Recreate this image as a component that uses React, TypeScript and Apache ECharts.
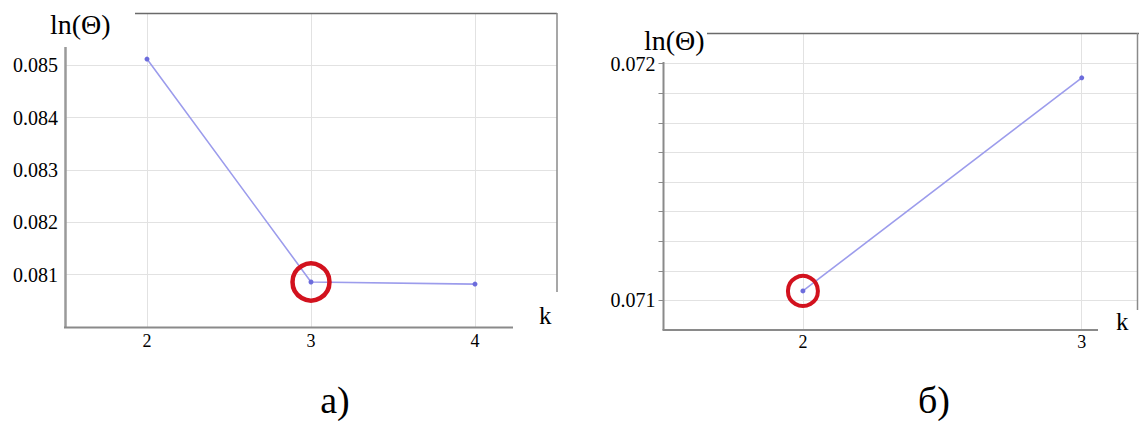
import React, { useEffect, useRef } from "react";
import * as echarts from "echarts";

// ---- data ----
const leftK = [2, 3, 4];
const leftLnTheta = [0.08512, 0.08086, 0.08082];
const leftChosenK = 3;
const leftYTicks = [0.081, 0.082, 0.083, 0.084, 0.085];

const rightK = [2, 3];
const rightLnTheta = [0.07104, 0.07194];
const rightChosenK = 2;
const rightYTicks = [
  0.071, 0.071125, 0.07125, 0.071375, 0.0715, 0.071625, 0.07175, 0.071875, 0.072,
];
const rightYLabels = [0.071, 0.072];

const yName = "ln(Θ)";
const xName = "k";
const leftCaption = "а)";
const rightCaption = "б)";

const FONT = "Liberation Serif";

const pairs = (ks: number[], vs: number[]) => ks.map((k, i) => [k, vs[i]]);
const chosen = (ks: number[], vs: number[], k: number) => {
  const i = ks.indexOf(k);
  return [[ks[i], vs[i]]];
};

export default function App() {
  const ref = useRef<HTMLDivElement>(null);

  useEffect(() => {
    if (!ref.current) return;
    const chart = echarts.init(ref.current, null, { renderer: "svg" });

    const lbl = (size: number) => ({
      fontFamily: FONT,
      fontSize: size,
      color: "#000",
    });
    const fmt3 = (v: number) => Number(v).toFixed(3);
    const split = { show: true, lineStyle: { color: "#e2e2e2", width: 1 } };

    const line = (x1: number, y1: number, x2: number, y2: number, stroke: string, w: number) => ({
      type: "line",
      z: 100,
      shape: { x1, y1, x2, y2 },
      style: { stroke, lineWidth: w },
    });
    const text = (t: string, x: number, y: number, size: number, align = "left") => ({
      type: "text",
      z: 100,
      x,
      y,
      style: {
        text: t,
        fontFamily: FONT,
        fontSize: size,
        fill: "#000",
        align,
        verticalAlign: "middle",
      },
    });

    const option: any = {
      animation: false,
      backgroundColor: "#fff",
      textStyle: { fontFamily: FONT },
      grid: [
        { left: 65, top: 13, width: 492, height: 314, containLabel: false, outerBoundsMode: "none" },
        { left: 663.5, top: 34, width: 474, height: 296, containLabel: false, outerBoundsMode: "none" },
      ],
      xAxis: [
        {
          gridIndex: 0,
          type: "value",
          min: 1.5,
          max: 4.5,
          axisLine: { show: false },
          axisTick: { show: false, customValues: leftK },
          axisLabel: { customValues: leftK, margin: 5, ...lbl(18) },
          splitLine: split,
        },
        {
          gridIndex: 1,
          type: "value",
          min: 1.5,
          max: 3.2,
          axisLine: { show: false },
          axisTick: { show: false, customValues: rightK },
          axisLabel: { customValues: rightK, margin: 3, ...lbl(18) },
          splitLine: split,
        },
      ],
      yAxis: [
        {
          gridIndex: 0,
          type: "value",
          min: 0.08,
          max: 0.086,
          axisLine: { show: false },
          axisTick: { show: false, customValues: leftYTicks },
          axisLabel: { customValues: leftYTicks, margin: 7, formatter: fmt3, ...lbl(20) },
          splitLine: split,
        },
        {
          gridIndex: 1,
          type: "value",
          min: 0.070875,
          max: 0.072125,
          axisLine: { show: false },
          axisTick: {
            show: true,
            inside: false,
            length: 5,
            customValues: rightYTicks,
            lineStyle: { color: "#8a8a8a", width: 1 },
          },
          axisLabel: { customValues: rightYLabels, margin: 8, formatter: fmt3, ...lbl(20) },
          splitLine: split,
        },
      ],
      series: [
        {
          type: "line",
          xAxisIndex: 0,
          yAxisIndex: 0,
          data: pairs(leftK, leftLnTheta),
          symbol: "circle",
          symbolSize: 5,
          lineStyle: { color: "#9c9cec", width: 1.6 },
          itemStyle: { color: "#6c6cdc" },
          z: 5,
        },
        {
          type: "scatter",
          xAxisIndex: 0,
          yAxisIndex: 0,
          data: chosen(leftK, leftLnTheta, leftChosenK),
          symbol: "circle",
          symbolSize: 37,
          itemStyle: { color: "rgba(0,0,0,0)", borderColor: "#d2121e", borderWidth: 4.5, opacity: 1 },
          z: 6,
        },
        {
          type: "line",
          xAxisIndex: 1,
          yAxisIndex: 1,
          data: pairs(rightK, rightLnTheta),
          symbol: "circle",
          symbolSize: 5,
          lineStyle: { color: "#9c9cec", width: 1.6 },
          itemStyle: { color: "#6c6cdc" },
          z: 5,
        },
        {
          type: "scatter",
          xAxisIndex: 1,
          yAxisIndex: 1,
          data: chosen(rightK, rightLnTheta, rightChosenK),
          symbol: "circle",
          symbolSize: 30,
          itemStyle: { color: "rgba(0,0,0,0)", borderColor: "#d2121e", borderWidth: 4, opacity: 1 },
          z: 6,
        },
      ],
      graphic: [
        // left chart frame
        line(65.5, 47, 65.5, 327.5, "#9a9a9a", 2.5),
        line(64, 327.5, 513, 327.5, "#8a8a8a", 2),
        line(135, 13.5, 557, 13.5, "#6a6a6a", 1.5),
        line(557, 13, 557, 292, "#8a8a8a", 1.5),
        // right chart frame
        line(663.5, 62, 663.5, 330, "#8a8a8a", 2),
        line(662.5, 330, 1098, 330, "#8a8a8a", 2),
        line(707, 33.5, 1139, 33.5, "#6a6a6a", 1.5),
        line(1137.5, 33, 1137.5, 310, "#8a8a8a", 1.5),
        // axis names & captions
        text(yName, 50, 24, 28),
        text(yName, 644, 40, 28),
        text(xName, 539, 315, 25),
        text(xName, 1116, 321, 25),
        text(leftCaption, 335, 400, 38, "center"),
        text(rightCaption, 934, 400, 38, "center"),
      ],
    };

    chart.setOption(option);
    return () => chart.dispose();
  }, []);

  return (
    <div
      ref={ref}
      style={{ position: "fixed", left: 0, top: 0, width: 1139, height: 421, background: "#fff" }}
    />
  );
}
